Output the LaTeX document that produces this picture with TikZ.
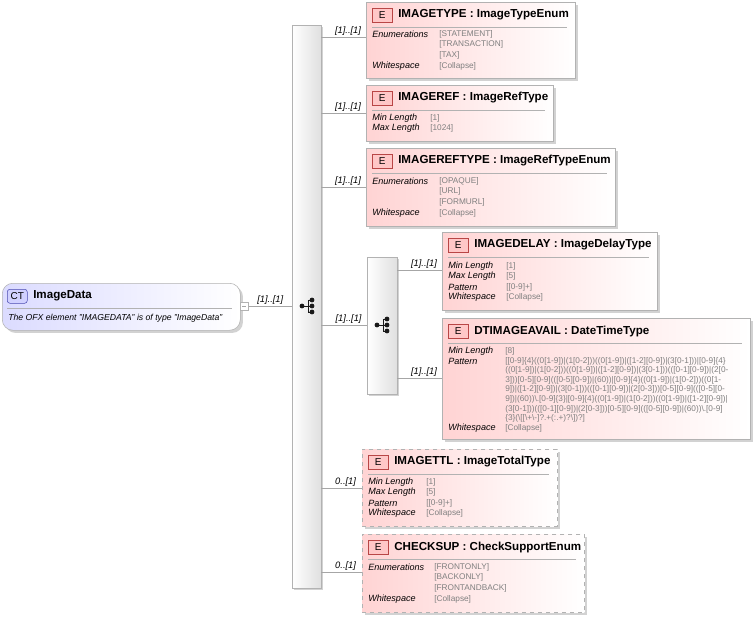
\documentclass[tikz,border=0pt]{standalone}
\usepackage{fontspec}
\setmainfont{Liberation Sans}
\usetikzlibrary{shadows}
\newcommand\kfont{\fontsize{6.8}{7}\selectfont\itshape}
\newcommand\vfont{\fontsize{6.2}{7}\selectfont\color{gray}}
\newcommand\bs{\textbackslash}
\tikzset{
 ebx/.style={draw=gray!60, rectangle, anchor=north west, inner sep=0pt, left color=red!17, right color=white, general shadow={shadow xshift=2pt, shadow yshift=-2pt, fill=gray!35}},
 opt/.style={dashed},
 badge/.style={draw=red!45!gray, fill=red!22, anchor=north west, minimum width=20*0.75pt, minimum height=14*0.75pt, inner sep=0pt, font=\fontsize{7.5}{8}\selectfont},
 ttl/.style={anchor=west, inner sep=0pt, font=\fontsize{8.7}{9}\selectfont\bfseries},
 key/.style={anchor=west, inner sep=0pt, font=\kfont},
 val/.style={anchor=west, inner sep=0pt, font=\vfont},
 card/.style={anchor=south, inner sep=1pt, font=\fontsize{7}{7}\selectfont\itshape},
 seqbar/.style={draw=gray!60, rectangle, anchor=north west, inner sep=0pt, left color=white, right color=gray!25, general shadow={shadow xshift=1.5pt, shadow yshift=-1.5pt, fill=gray!35}},
 conn/.style={draw=gray!70, line width=0.5pt},
}
\newcommand\ebox[7][]{%
 \node[ebx,#1, minimum width=#5*0.75pt, minimum height=#6*0.75pt] (#2) at (#3,#4) {};
 \node[badge] at (#3+6,#4+6) {E};
 \node[ttl] at (#3+32,#4+13) {#7};
 \draw[gray!60] (#3+6,#4+25) -- (#3+#5-8,#4+25);
}
\newcommand\seqicon[2]{%
 \draw[gray!20!black,line width=0.6pt] (#1-5,#2) -- (#1+1,#2) (#1+1,#2-6) -- (#1+1,#2+6) (#1+1,#2-6) -- (#1+5,#2-6) (#1+1,#2) -- (#1+5,#2) (#1+1,#2+6) -- (#1+5,#2+6);
 \fill[gray!20!black] (#1-5,#2) circle (1.8pt);
 \foreach \yy in {-6,0,6} \fill[gray!20!black] (#1+5,#2+\yy) circle (1.8pt);
}
\begin{document}
\begin{tikzpicture}[x=0.75pt,y=-0.75pt]
\useasboundingbox (0,0) rectangle (755,618);
\node[draw=gray!60, rounded corners=8pt, anchor=north west, minimum width=238*0.75pt, minimum height=47*0.75pt, inner sep=0pt, left color=blue!14, right color=white, general shadow={shadow xshift=2pt, shadow yshift=-2pt, fill=gray!35}] (ct) at (2,283) {};
\node[draw=blue!40!gray, fill=blue!18, rounded corners=2pt, anchor=north west, minimum width=20*0.75pt, minimum height=14*0.75pt, inner sep=0pt, font=\fontsize{7.5}{8}\selectfont] (ctb) at (7,289) {CT};
\node[ttl] (ctt) at (33,296) {ImageData};
\draw[gray!60] (7,308) -- (232,308);
\node[key, font=\fontsize{6.5}{7}\selectfont\itshape] (ctd) at (8,318) {The OFX element "IMAGEDATA" is of type "ImageData"};
\node[draw=gray!60, fill=white, anchor=north west, minimum size=8*0.75pt, inner sep=0pt] (ctsq) at (240,302) {};
\draw[gray!70] (242,306.5) -- (246,306.5);
\node[seqbar, minimum width=29*0.75pt, minimum height=563*0.75pt] (seq) at (292,25) {};
\seqicon{307}{306}
\draw[conn] (ctsq.east) -- (ctsq.east -| seq.west) node[card, midway] {[1]..[1]};
\node[seqbar, minimum width=30*0.75pt, minimum height=137*0.75pt] (seq2) at (367,257) {};
\seqicon{382}{325}

\ebox{b1}{366}{2}{209}{76}{IMAGETYPE : ImageTypeEnum}
\node[key] at (372,34) {Enumerations};
\node[val] at (439,34) {[STATEMENT]};
\node[val] at (439,44.5) {[TRANSACTION]};
\node[val] at (439,55) {[TAX]};
\node[key] at (372,66) {Whitespace};
\node[val] at (439,66) {[Collapse]};

\ebox{b2}{366}{85}{187}{56}{IMAGEREF : ImageRefType}
\node[key] at (372,118) {Min Length};
\node[val] at (430,118) {[1]};
\node[key] at (372,128.5) {Max Length};
\node[val] at (430,128.5) {[1024]};

\ebox{b3}{366}{148}{249}{78}{IMAGEREFTYPE : ImageRefTypeEnum}
\node[key] at (372,181) {Enumerations};
\node[val] at (439,181) {[OPAQUE]};
\node[val] at (439,191.5) {[URL]};
\node[val] at (439,202) {[FORMURL]};
\node[key] at (372,213) {Whitespace};
\node[val] at (439,213) {[Collapse]};

\ebox{b4}{442}{232}{215}{78}{IMAGEDELAY : ImageDelayType}
\node[key] at (448,266) {Min Length};
\node[val] at (506,266) {[1]};
\node[key] at (448,276.5) {Max Length};
\node[val] at (506,276.5) {[5]};
\node[key] at (448,287) {Pattern};
\node[val] at (506,287) {[[0-9]+]};
\node[key] at (448,297.5) {Whitespace};
\node[val] at (506,297.5) {[Collapse]};

\ebox{b5}{442}{318}{308}{121}{DTIMAGEAVAIL : DateTimeType}
\node[key] at (448,351) {Min Length};
\node[val] at (505,351) {[8]};
\node[key] at (448,361) {Pattern};
\node[val] at (505,361) {[[0-9]\{4\}((0[1-9])|(1[0-2]))((0[1-9])|([1-2][0-9])|(3[0-1]))|[0-9]\{4\}};
\node[val] at (505,370.6) {((0[1-9])|(1[0-2]))((0[1-9])|([1-2][0-9])|(3[0-1]))(([0-1][0-9])|(2[0-};
\node[val] at (505,380.2) {3]))[0-5][0-9](([0-5][0-9])|(60))|[0-9]\{4\}((0[1-9])|(1[0-2]))((0[1-};
\node[val] at (505,389.8) {9])|([1-2][0-9])|(3[0-1]))(([0-1][0-9])|(2[0-3]))[0-5][0-9](([0-5][0-};
\node[val] at (505,399.4) {9])|(60))\bs.[0-9]\{3\}|[0-9]\{4\}((0[1-9])|(1[0-2]))((0[1-9])|([1-2][0-9])|};
\node[val] at (505,409) {(3[0-1]))(([0-1][0-9])|(2[0-3]))[0-5][0-9](([0-5][0-9])|(60))\bs.[0-9]};
\node[val] at (505,418.6) {\{3\}(\bs[[\bs+\bs-]?.+(:.+)?\bs])?]};
\node[key] at (448,428) {Whitespace};
\node[val] at (505,428) {[Collapse]};

\ebox[opt]{b6}{362}{449}{195}{77}{IMAGETTL : ImageTotalType}
\node[key] at (368,482) {Min Length};
\node[val] at (426,482) {[1]};
\node[key] at (368,492.5) {Max Length};
\node[val] at (426,492.5) {[5]};
\node[key] at (368,503) {Pattern};
\node[val] at (426,503) {[[0-9]+]};
\node[key] at (368,513.5) {Whitespace};
\node[val] at (426,513.5) {[Collapse]};

\ebox[opt]{b7}{362}{534}{222}{78}{CHECKSUP : CheckSupportEnum}
\node[key] at (368,567) {Enumerations};
\node[val] at (434,567) {[FRONTONLY]};
\node[val] at (434,577.5) {[BACKONLY]};
\node[val] at (434,588) {[FRONTANDBACK]};
\node[key] at (368,599) {Whitespace};
\node[val] at (434,599) {[Collapse]};

\coordinate (c1) at (321,37);
\coordinate (c2) at (321,113);
\coordinate (c3) at (321,187);
\coordinate (c4) at (321,325);
\coordinate (c6) at (321,488);
\coordinate (c7) at (321,572);
\coordinate (d4) at (397,270);
\coordinate (d5) at (397,378);
\draw[conn] (c1) -- (c1 -| b1.west) node[card, pos=0.6] {[1]..[1]};
\draw[conn] (c2) -- (c2 -| b2.west) node[card, pos=0.6] {[1]..[1]};
\draw[conn] (c3) -- (c3 -| b3.west) node[card, pos=0.6] {[1]..[1]};
\draw[conn] (c4) -- (c4 -| seq2.west) node[card, pos=0.6] {[1]..[1]};
\draw[conn] (c6) -- (c6 -| b6.west) node[card, pos=0.6] {0..[1]};
\draw[conn] (c7) -- (c7 -| b7.west) node[card, pos=0.6] {0..[1]};
\draw[conn] (d4) -- (d4 -| b4.west) node[card, pos=0.6] {[1]..[1]};
\draw[conn] (d5) -- (d5 -| b5.west) node[card, pos=0.6] {[1]..[1]};
\end{tikzpicture}
\end{document}
